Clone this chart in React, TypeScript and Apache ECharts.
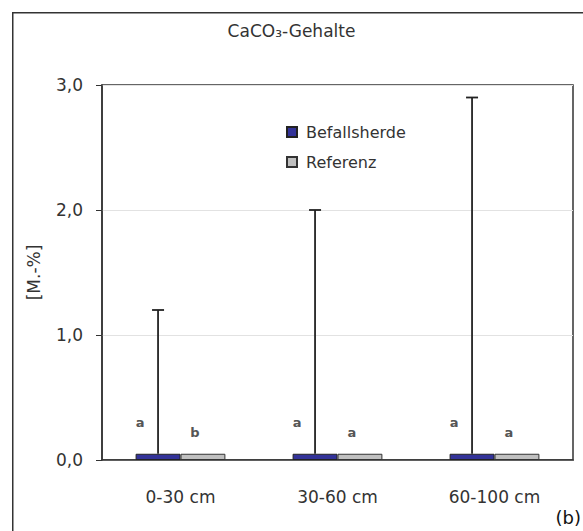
import React, { useEffect, useRef } from "react";
import * as echarts from "echarts";

const categories = ["0-30 cm", "30-60 cm", "60-100 cm"];
const befallsherde = [0.05, 0.05, 0.05];
const referenz = [0.05, 0.05, 0.05];
const befallsherdeError = [1.2, 2.0, 2.9];
const lettersBefall = ["a", "a", "a"];
const lettersReferenz = ["b", "a", "a"];
const yTicks = [0, 1, 2, 3];

const BAR_FRAC = 0.286;
const FONT = "'DejaVu Sans', Verdana, sans-serif";

export default function App() {
  const ref = useRef<HTMLDivElement>(null);
  useEffect(() => {
    document.body.style.margin = "0";
    const chart = echarts.init(ref.current!, null, { renderer: "svg" });
    const option: any = {
      animation: false,
      backgroundColor: "#ffffff",
      textStyle: { fontFamily: FONT },
      title: {
        text: "CaCO₃-Gehalte",
        left: "center",
        top: 17,
        textStyle: { fontSize: 17, fontWeight: "normal", color: "#333", fontFamily: FONT },
      },
      legend: {
        orient: "vertical",
        left: 281,
        top: 118,
        itemWidth: 10,
        itemHeight: 10,
        itemGap: 12,
        icon: "rect",
        textStyle: { fontSize: 16, lineHeight: 18, color: "#333", padding: [0, 0, 0, 4], fontFamily: FONT },
        data: ["Befallsherde", "Referenz"],
      },
      grid: {
        left: 102,
        top: 85,
        right: 10,
        bottom: 71,
        show: true,
        borderColor: "#333",
        borderWidth: 1.5,
        backgroundColor: "transparent",
      },
      xAxis: {
        type: "category",
        data: categories,
        axisTick: { show: false },
        axisLine: { lineStyle: { color: "#333", width: 1.5 } },
        axisLabel: { fontSize: 17, color: "#333", margin: 28, fontFamily: FONT },
      },
      yAxis: {
        type: "value",
        min: yTicks[0],
        max: yTicks[yTicks.length - 1],
        interval: 1,
        name: "[M.-%]",
        nameLocation: "middle",
        nameGap: 60,
        nameTextStyle: { fontSize: 17, color: "#333", fontFamily: FONT },
        axisLine: { show: true, lineStyle: { color: "#333", width: 1.5 } },
        axisTick: { show: true, length: 6, lineStyle: { color: "#333" } },
        axisLabel: {
          fontSize: 17,
          color: "#333",
          margin: 19,
          fontFamily: FONT,
          formatter: (v: number) => v.toFixed(1).replace(".", ","),
        },
        splitLine: { show: true, lineStyle: { color: "#e2e2e2", width: 1 } },
      },
      series: [
        {
          name: "Befallsherde",
          type: "bar",
          data: befallsherde,
          barWidth: (BAR_FRAC * 100).toFixed(1) + "%",
          barGap: "0%",
          itemStyle: { color: "#333399", borderColor: "#222", borderWidth: 1 },
          label: {
            show: true,
            position: "top",
            offset: [-18, -20],
            fontSize: 13,
            fontWeight: "bold",
            color: "#555",
            fontFamily: FONT,
            formatter: (p: any) => lettersBefall[p.dataIndex],
          },
        },
        {
          name: "Referenz",
          type: "bar",
          data: referenz,
          barWidth: (BAR_FRAC * 100).toFixed(1) + "%",
          barGap: "0%",
          itemStyle: { color: "#c0c0c0", borderColor: "#333", borderWidth: 1 },
          label: {
            show: true,
            position: "top",
            offset: [-8, -10],
            fontSize: 13,
            fontWeight: "bold",
            color: "#555",
            fontFamily: FONT,
            formatter: (p: any) => lettersReferenz[p.dataIndex],
          },
        },
        {
          name: "Fehler",
          type: "custom",
          data: befallsherdeError.map((e, i) => [i, befallsherde[i], e]),
          encode: { x: 0, y: [1, 2] },
          z: 5,
          renderItem: (params: any, api: any) => {
            const idx = api.value(0);
            const low = api.coord([idx, api.value(1)]);
            const high = api.coord([idx, api.value(2)]);
            const band = api.size([1, 0])[0];
            const x = low[0] - (band * BAR_FRAC) / 2;
            const cap = 6;
            const style = { stroke: "#222", lineWidth: 1.8 };
            return {
              type: "group",
              children: [
                { type: "line", shape: { x1: x, y1: low[1], x2: x, y2: high[1] }, style },
                { type: "line", shape: { x1: x - cap, y1: high[1], x2: x + cap, y2: high[1] }, style },
              ],
            };
          },
        },
      ],
      graphic: [
        {
          type: "rect",
          left: 12,
          top: 12,
          shape: { width: 600, height: 600 },
          style: { fill: "transparent", stroke: "#333", lineWidth: 1.5 },
          silent: true,
        },
        {
          type: "text",
          right: 2,
          top: 508,
          style: { text: "(b)", fontSize: 18, fill: "#111", fontFamily: FONT },
        },
      ],
    };
    chart.setOption(option);
    return () => chart.dispose();
  }, []);
  return <div ref={ref} style={{ width: 583, height: 531 }} />;
}
